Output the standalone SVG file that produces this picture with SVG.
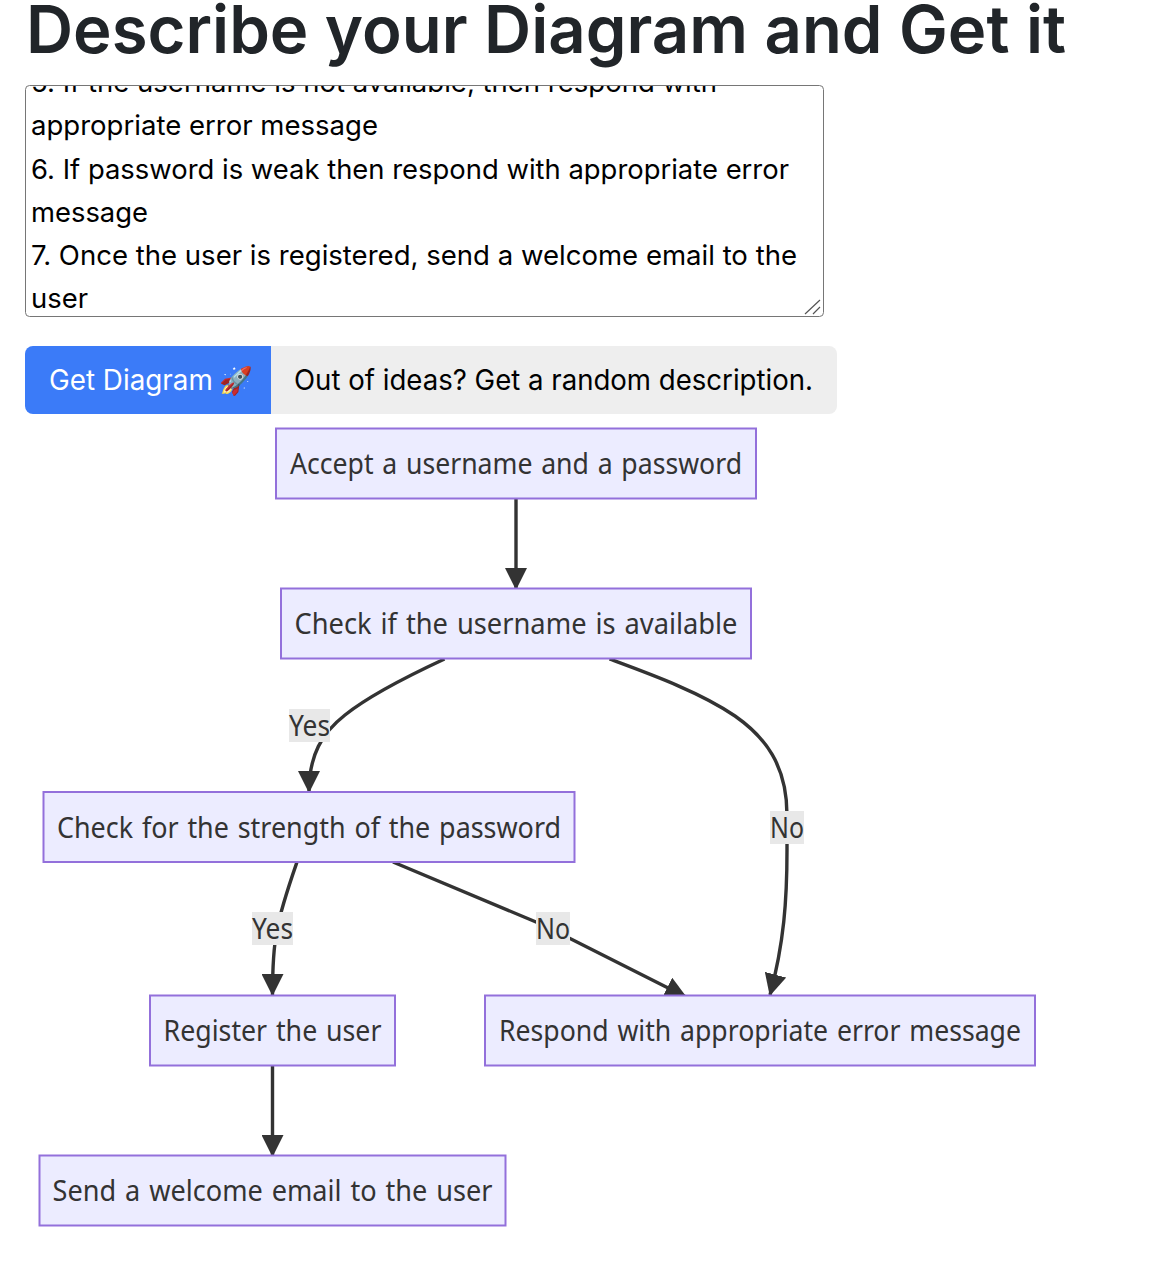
<svg xmlns="http://www.w3.org/2000/svg" width="1160" height="1268" viewBox="0 0 1160 1268">
<style>
.ui{font-family:"Inter","Liberation Sans",sans-serif}
.ta{font-size:27.5px;fill:#000}
.n rect{fill:#ececff;stroke:#9370db;stroke-width:2}
.n text,.lb text{font-family:"Noto Sans","DejaVu Sans",sans-serif;font-size:29px;fill:#333;text-anchor:middle;word-spacing:2px}
.lb rect{fill:#e8e8e8}
.e{fill:none;stroke:#333;stroke-width:3.4}
</style>
<defs>
<marker id="a" markerUnits="userSpaceOnUse" markerWidth="22" markerHeight="22" refX="21" refY="11" orient="auto" viewBox="0 0 22 22"><path d="M0 0L22 11L0 22Z" fill="#333"/></marker>
<clipPath id="tc"><rect x="26" y="86" width="797" height="230"/></clipPath>
</defs>
<rect width="1160" height="1268" fill="#fff"/>
<text id="title" class="ui" x="26" y="52.500" font-size="66" font-weight="600" fill="#212529" textLength="1040" lengthAdjust="spacingAndGlyphs">Describe your Diagram and Get it</text>
<g id="textarea">
<rect x="25.500" y="85.500" width="798" height="231" rx="4" fill="#fff" stroke="#767676" stroke-width="1"/>
<g clip-path="url(#tc)" class="ui ta">
<text x="31" y="92" textLength="686" lengthAdjust="spacingAndGlyphs">5. If the username is not available, then respond with</text>
<text x="31" y="135" textLength="347" lengthAdjust="spacingAndGlyphs">appropriate error message</text>
<text x="31" y="179" textLength="758" lengthAdjust="spacingAndGlyphs">6. If password is weak then respond with appropriate error</text>
<text x="31" y="222" textLength="117" lengthAdjust="spacingAndGlyphs">message</text>
<text x="31" y="265" textLength="766" lengthAdjust="spacingAndGlyphs">7. Once the user is registered, send a welcome email to the</text>
<text x="31" y="308" textLength="57" lengthAdjust="spacingAndGlyphs">user</text>
</g>
<path d="M805 314L820 300M813 314L820 307" stroke="#555" stroke-width="1.200" fill="none"/>
</g>
<g id="btn-random">
<path d="M271 346H829a8 8 0 0 1 8 8V406a8 8 0 0 1-8 8H271Z" fill="#eee"/>
<text class="ui" x="294" y="390" font-size="28" fill="#000" textLength="519" lengthAdjust="spacingAndGlyphs">Out of ideas? Get a random description.</text>
</g>
<g id="btn-get">
<path d="M271 346H33a8 8 0 0 0-8 8V406a8 8 0 0 0 8 8H271Z" fill="#3b7bf8"/>
<text class="ui" x="49" y="390" font-size="27.800" fill="#fff">Get Diagram<tspan x="219" font-size="27">🚀</tspan></text>
</g>
<g id="connectors">
<path class="e" marker-end="url(#a)" d="M516 499V589"/>
<path class="e" marker-end="url(#a)" d="M444.500 659C410 675 370 695 345 715C322 733 309 755 309 792"/>
<path class="e" marker-end="url(#a)" d="M609.500 659C650 674 700 692 735 716C765 737 787 765 787 815L787 850C787 900 784 943 770 995"/>
<path class="e" marker-end="url(#a)" d="M297 862C288 888 281 908 277 930C273 950 272.500 970 272.500 995"/>
<path class="e" marker-end="url(#a)" d="M393 862L536 922L571 939L686 997"/>
<path class="e" marker-end="url(#a)" d="M272.500 1066V1156"/>
</g>
<g id="edge-labels" class="lb">
<g><rect x="289" y="709" width="41" height="33"/><text x="309.500" y="736" textLength="41" lengthAdjust="spacingAndGlyphs">Yes</text></g>
<g><rect x="770" y="811" width="34" height="33"/><text x="787" y="838" textLength="34" lengthAdjust="spacingAndGlyphs">No</text></g>
<g><rect x="252" y="912" width="41" height="33"/><text x="272.500" y="939" textLength="41" lengthAdjust="spacingAndGlyphs">Yes</text></g>
<g><rect x="536" y="912" width="34" height="33"/><text x="553" y="939" textLength="34" lengthAdjust="spacingAndGlyphs">No</text></g>
</g>
<g id="n1" class="n"><rect x="276" y="428.500" width="480" height="70"/><text x="516" y="474" textLength="452" lengthAdjust="spacingAndGlyphs">Accept a username and a password</text></g>
<g id="n2" class="n"><rect x="281" y="588.500" width="470" height="70"/><text x="516" y="634" textLength="443" lengthAdjust="spacingAndGlyphs">Check if the username is available</text></g>
<g id="n3" class="n"><rect x="43.500" y="792" width="531" height="70"/><text x="309" y="837.500" textLength="504" lengthAdjust="spacingAndGlyphs">Check for the strength of the password</text></g>
<g id="n4" class="n"><rect x="150" y="995.500" width="245" height="70"/><text x="272.500" y="1041" textLength="218" lengthAdjust="spacingAndGlyphs">Register the user</text></g>
<g id="n5" class="n"><rect x="485" y="995.500" width="550" height="70"/><text x="760" y="1041" textLength="522" lengthAdjust="spacingAndGlyphs">Respond with appropriate error message</text></g>
<g id="n6" class="n"><rect x="39.500" y="1155.500" width="466" height="70"/><text x="272.500" y="1201" textLength="440" lengthAdjust="spacingAndGlyphs">Send a welcome email to the user</text></g>
</svg>
